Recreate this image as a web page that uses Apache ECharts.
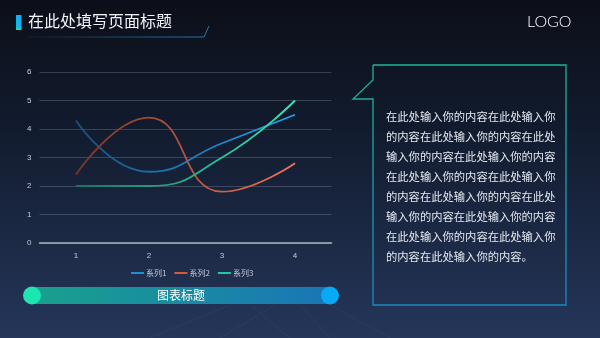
<!DOCTYPE html>
<html><head><meta charset="utf-8">
<script src="https://cdn.jsdelivr.net/npm/echarts@6/dist/echarts.min.js"></script>
<style>html,body{margin:0;padding:0;background:#0d111c}#c{width:600px;height:338px}</style>
</head><body><div id="c"></div>
<script>
const categories = ['1','2','3','4'];
const seriesNames = ['系列1','系列2','系列3'];
const series1 = [4.3, 2.5, 3.5, 4.5];
const series2 = [2.4, 4.4, 1.8, 2.8];
const series3 = [2.0, 2.0, 3.0, 5.0];
const pageTitle = '在此处填写页面标题';
const chartTitle = '图表标题';
const logoText = 'LOGO';
const bodyLines = [
 '在此处输入你的内容在此处输入你',
 '的内容在此处输入你的内容在此处',
 '输入你的内容在此处输入你的内容',
 '在此处输入你的内容在此处输入你',
 '的内容在此处输入你的内容在此处',
 '输入你的内容在此处输入你的内容',
 '在此处输入你的内容在此处输入你',
 '的内容在此处输入你的内容。'
];
const FONT = '"Noto Sans CJK SC", "Noto Sans", sans-serif';
function grad(a,b){return new echarts.graphic.LinearGradient(0,0,1,0,[{offset:0,color:a},{offset:1,color:b}]);}
const lineColors = [grad('#1b4f7a','#1ea6f2'), grad('#7a3326','#f07452'), grad('#1a6f62','#31f0b4')];
const legendColors = ['#1e90d8','#d8583c','#22c8a0'];

const chart = echarts.init(document.getElementById('c'));
const graphics = [
  {type:'rect', z:-10, shape:{x:0,y:0,width:600,height:338}, style:{fill:new echarts.graphic.LinearGradient(0,0,0,1,[{offset:0,color:'#0c0f19'},{offset:0.35,color:'#111a2c'},{offset:1,color:'#25365a'}])}},
  {type:'rect', shape:{x:16,y:15,width:5.5,height:15}, style:{fill:new echarts.graphic.LinearGradient(0,0,0,1,[{offset:0,color:'#12aef5'},{offset:0.75,color:'#12b6f0'},{offset:1,color:'#22e09a'}])}},
  {type:'text', left:28, top:13, style:{text:pageTitle, fill:'#f2f4f8', font:'16px '+FONT}},
  {type:'polyline', shape:{points:[[28,37],[204,37],[209,26]]}, style:{fill:null, stroke:grad('#141c2c','#2a78b0'), lineWidth:1}},
  {type:'text', left:527, top:14, style:{text:logoText, fill:'#ffffff', font:'300 16px Lato, "DejaVu Sans", sans-serif'}},
  {type:'polyline', shape:{points:[[373,65],[566,65],[566,305],[373,305],[373,99],[353,99],[373,80],[373,65]]}, style:{fill:null, stroke:new echarts.graphic.LinearGradient(0,0,0,1,[{offset:0,color:'#1fb393'},{offset:1,color:'#1d86c4'}]), lineWidth:1.3}},
  {type:'rect', shape:{x:24,y:287,width:314,height:17,r:8.5}, style:{fill:grad('#18a28c','#1a74b8')}},
  {type:'circle', shape:{cx:32,cy:295.5,r:9}, style:{fill:'#1de7b1'}},
  {type:'circle', shape:{cx:330,cy:295.5,r:9}, style:{fill:'#08aaf5'}},
  {type:'text', x:181, y:295.5, style:{text:chartTitle, fill:'#ffffff', font:'12px '+FONT, align:'center', verticalAlign:'middle'}}
];
bodyLines.forEach((t,i)=>{
  graphics.push({type:'text', x:386, y:116.5+i*20, style:{text:t, fill:'#e4e8f0', font:'11.3px '+FONT, verticalAlign:'middle'}});
});
[[290,338,250,305],[330,338,300,305],[390,338,330,305],[220,338,275,305],[150,338,230,305]].forEach(p=>{
  graphics.push({type:'line', z:-9, shape:{x1:p[0],y1:p[1],x2:p[2],y2:p[3]}, style:{stroke:'rgba(120,150,200,0.09)', lineWidth:1}});
});

const datas = [series1, series2, series3];
chart.setOption({
  animation:false,
  graphic: graphics,
  grid:{left:39.5, right:268.5, top:72, bottom:95},
  legend:{
    data: seriesNames, left:126, top:264, icon:'rect', itemWidth:13, itemHeight:2, itemGap:8,
    textStyle:{color:'#c4cbd8', fontSize:8, fontFamily:FONT, padding:[0,0,0,-3]}
  },
  xAxis:{type:'category', data:categories, boundaryGap:true,
    axisLine:{lineStyle:{color:'#aab4c6', width:1.5}}, axisTick:{show:false},
    axisLabel:{color:'#c4cbd8', fontSize:8, margin:9}},
  yAxis:{type:'value', min:0, max:6, interval:1, axisLine:{show:false}, axisTick:{show:false},
    axisLabel:{color:'#c4cbd8', fontSize:8, margin:8},
    splitLine:{lineStyle:{color:'rgba(160,170,190,0.28)', width:1}}},
  series: datas.map((d,i)=>({
    name: seriesNames[i], type:'line', data:d, smooth:true, symbol:'none',
    lineStyle:{color:lineColors[i], width:1.8},
    itemStyle:{color:legendColors[i]}
  }))
});
</script></body></html>
